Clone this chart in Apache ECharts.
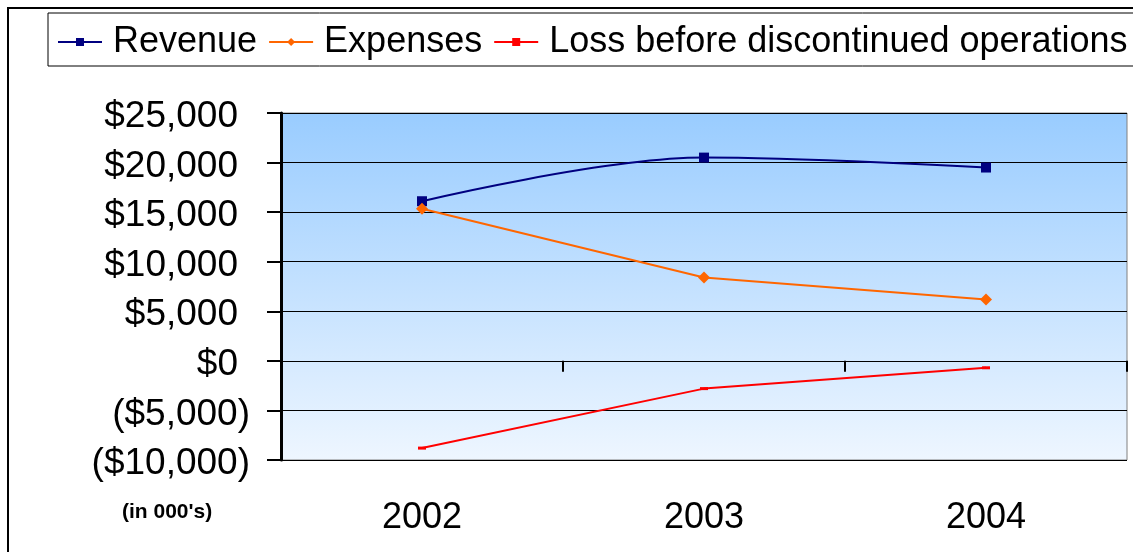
<!DOCTYPE html>
<html>
<head>
<meta charset="utf-8">
<script src="https://cdn.jsdelivr.net/npm/echarts@6/dist/echarts.min.js"></script>
<style>
  html, body { margin: 0; padding: 0; background: #fff; }
  #chart { width: 1133px; height: 552px; }
</style>
</head>
<body>
<div id="chart"></div>
<script>
  // values in thousands of dollars
  var years = ['2002', '2003', '2004'];
  var revenue = [16100, 20500, 19500];
  var expenses = [15350, 8400, 6200];
  var lossBeforeDiscontinued = [-8800, -2800, -700];

  var FONT = 'Liberation Sans, Arial, sans-serif';

  var chart = echarts.init(document.getElementById('chart'));

  function moneyLabel(v) {
    var s = '$' + Math.abs(v).toLocaleString('en-US');
    // positive numbers keep a gap where the ")" would be
    return v < 0 ? '{n|(' + s + ')}' : '{p|' + s + '}';
  }

  chart.setOption({
    animation: false,
    textStyle: { fontFamily: FONT },
    graphic: [
      {
        type: 'rect',
        shape: { x: 8, y: 8, width: 1200, height: 600 },
        style: { fill: 'none', stroke: '#000', lineWidth: 2 },
        z: 0
      },
      {
        type: 'text',
        left: 122,
        top: 502,
        style: { text: "(in 000's)", font: 'bold 21px ' + FONT, fill: '#000' }
      }
    ],
    legend: {
      left: 48,
      top: 13,
      width: 1300,
      padding: [9, 12, 4, 9],
      borderColor: '#000',
      borderWidth: 1,
      itemWidth: 44,
      itemHeight: 10,
      itemGap: 11,
      textStyle: { fontSize: 36, color: '#000', fontFamily: FONT, padding: [0, 0, 0, 6], lineHeight: 40 },
      data: ['Revenue', 'Expenses', 'Loss before discontinued operations']
    },
    grid: {
      left: 281,
      top: 113,
      right: 6,
      bottom: 92,
      show: true,
      borderColor: '#808080',
      borderWidth: 1,
      backgroundColor: new echarts.graphic.LinearGradient(0, 0, 0, 1, [
        { offset: 0, color: '#99CCFF' },
        { offset: 1, color: '#EEF6FF' }
      ])
    },
    xAxis: [
      {
        type: 'category',
        data: years,
        position: 'bottom',
        boundaryGap: true,
        axisLine: { show: false, onZero: false },
        axisTick: { show: false },
        axisLabel: { fontSize: 36, color: '#000', margin: 40, fontFamily: FONT }
      },
      {
        type: 'category',
        data: years,
        position: 'bottom',
        boundaryGap: true,
        axisLine: { show: true, onZero: true, lineStyle: { color: '#000', width: 1 } },
        axisTick: { show: true, length: 11, lineStyle: { color: '#000', width: 2 } },
        axisLabel: { show: false }
      }
    ],
    yAxis: {
      type: 'value',
      min: -10000,
      max: 25000,
      interval: 5000,
      axisLine: { show: true, lineStyle: { color: '#000', width: 3 } },
      axisTick: { show: true, length: 14, lineStyle: { color: '#000', width: 2 } },
      splitLine: { show: true, lineStyle: { color: '#000', width: 1 } },
      axisLabel: {
        margin: 31,
        color: '#000',
        fontSize: 37,
        fontFamily: FONT,
        formatter: moneyLabel,
        rich: {
          p: { fontSize: 37, fontFamily: FONT, color: '#000', padding: [8, 12, 0, 0] },
          n: { fontSize: 37, fontFamily: FONT, color: '#000', padding: [8, 0, 0, 0] }
        }
      }
    },
    series: [
      {
        name: 'Revenue',
        type: 'line',
        xAxisIndex: 0,
        data: revenue,
        smooth: 0.35,
        symbol: 'rect',
        symbolSize: 10,
        itemStyle: { color: '#000080' },
        lineStyle: { color: '#000080', width: 2 },
        z: 5
      },
      {
        name: 'Expenses',
        type: 'line',
        xAxisIndex: 0,
        data: expenses,
        symbol: 'diamond',
        symbolSize: 12,
        itemStyle: { color: '#FF6600' },
        lineStyle: { color: '#FF6600', width: 2 },
        z: 6
      },
      {
        name: 'Loss before discontinued operations',
        type: 'line',
        xAxisIndex: 0,
        data: lossBeforeDiscontinued,
        symbol: 'rect',
        symbolSize: [8, 3],
        itemStyle: { color: '#FF0000' },
        lineStyle: { color: '#FF0000', width: 2 },
        z: 5
      }
    ]
  });
</script>
</body>
</html>
